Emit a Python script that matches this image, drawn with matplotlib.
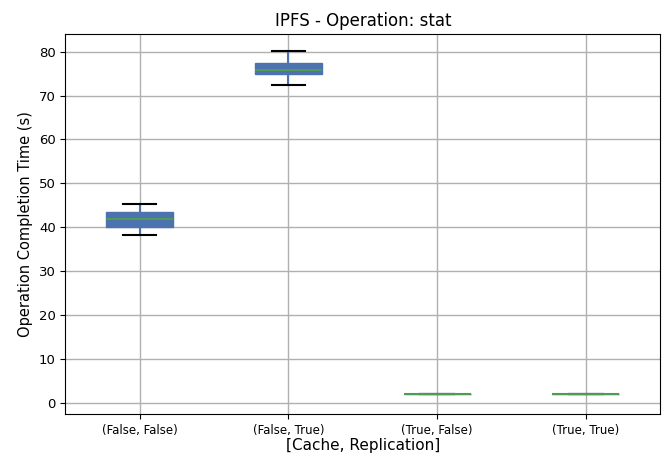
import matplotlib
matplotlib.use("Agg")
import matplotlib.pyplot as plt

labels = ["(False, False)", "(False, True)", "(True, False)", "(True, True)"]
whislo = [38.2, 72.3, 2.0, 2.0]
q1 = [40.0, 75.0, 2.0, 2.0]
med = [42.0, 75.9, 2.0, 2.0]
q3 = [43.6, 77.3, 2.0, 2.0]
whishi = [45.2, 80.1, 2.0, 2.0]

stats = []
for i in range(len(labels)):
    stats.append(dict(label=labels[i], whislo=whislo[i], q1=q1[i], med=med[i],
                      q3=q3[i], whishi=whishi[i], fliers=[]))

fig, ax = plt.subplots(figsize=(6.67, 4.54), dpi=100)
ax.bxp(stats, widths=0.45, patch_artist=True, showfliers=False,
       boxprops=dict(facecolor="#4C72B0", edgecolor="#4C72B0"),
       medianprops=dict(color="#4f9a55", linewidth=1.5),
       whiskerprops=dict(color="#4C72B0", linewidth=1.5),
       capprops=dict(color="black", linewidth=1.5))
ax.grid(True, color="#b0b0b0", linewidth=1)
ax.set_axisbelow(True)
ax.set_yticks(range(0, 81, 10))
ax.set_ylim(-2.5, 84)
ax.tick_params(axis="x", labelsize=8.5)
ax.tick_params(axis="y", labelsize=9.5)
ax.set_title("IPFS - Operation: stat", fontsize=12)
ax.set_ylabel("Operation Completion Time (s)", fontsize=10.5)
ax.set_xlabel("[Cache, Replication]", fontsize=11, labelpad=1)
fig.subplots_adjust(left=0.098, right=0.99, top=0.925, bottom=0.088)
fig.savefig("out.png")
